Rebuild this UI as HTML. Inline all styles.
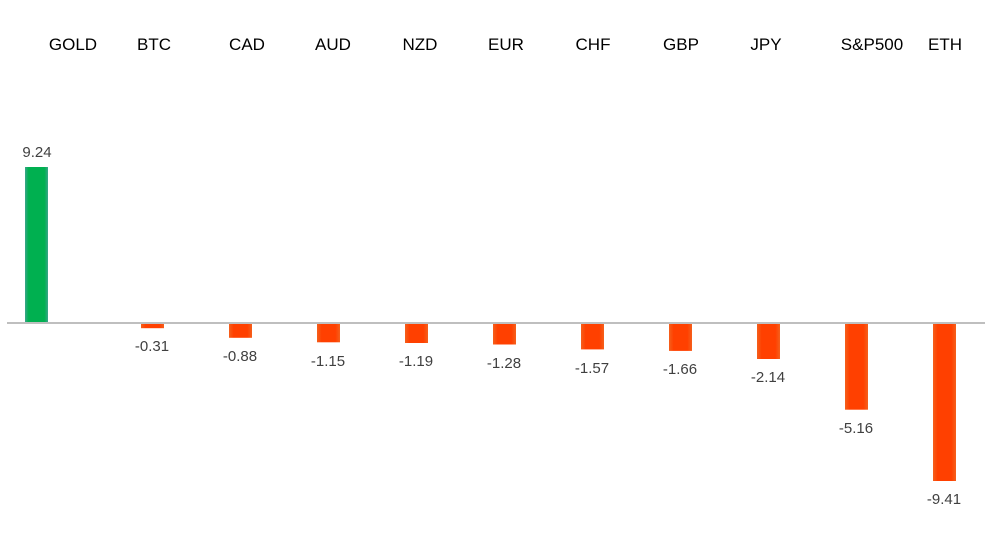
<!DOCTYPE html><html><head><style>
body{margin:0;width:997px;height:552px;background:#fff;overflow:hidden;font-family:"Liberation Sans",sans-serif}
</style></head><body>
<svg width="997" height="552" xmlns="http://www.w3.org/2000/svg">
<defs>
<linearGradient id="g" x1="0" x2="1"><stop offset="0" stop-color="#3aa58a"/><stop offset=".15" stop-color="#00b050"/><stop offset=".85" stop-color="#00b050"/><stop offset="1" stop-color="#3aa58a"/></linearGradient>
<linearGradient id="r" x1="0" x2="1"><stop offset="0" stop-color="#f5601c"/><stop offset=".2" stop-color="#ff4000"/><stop offset=".8" stop-color="#ff4000"/><stop offset="1" stop-color="#f5601c"/></linearGradient>
</defs>
<g font-size="17" fill="#000" text-anchor="middle">
<text x="73" y="50">GOLD</text><text x="154" y="50">BTC</text><text x="247" y="50">CAD</text><text x="333" y="50">AUD</text><text x="420" y="50">NZD</text><text x="506" y="50">EUR</text><text x="593" y="50">CHF</text><text x="681" y="50">GBP</text><text x="766" y="50">JPY</text><text x="872" y="50">S&amp;P500</text><text x="945" y="50">ETH</text>
</g>
<rect x="25" y="167" width="23" height="156" fill="url(#g)"/>
<g fill="url(#r)">
<rect x="141" y="323" width="23" height="5.2"/>
<rect x="229" y="323" width="23" height="14.8"/>
<rect x="317" y="323" width="23" height="19.3"/>
<rect x="405" y="323" width="23" height="20"/>
<rect x="493" y="323" width="23" height="21.5"/>
<rect x="581" y="323" width="23" height="26.4"/>
<rect x="669" y="323" width="23" height="27.9"/>
<rect x="757" y="323" width="23" height="36"/>
<rect x="845" y="323" width="23" height="86.7"/>
<rect x="933" y="323" width="23" height="158"/>
</g>
<line x1="7" y1="323" x2="985" y2="323" stroke="#bfbfbf" stroke-width="2"/>
<g font-size="15" fill="#404040" text-anchor="middle">
<text x="37" y="157">9.24</text>
<text x="152" y="351">-0.31</text>
<text x="240" y="361">-0.88</text>
<text x="328" y="366">-1.15</text>
<text x="416" y="366">-1.19</text>
<text x="504" y="368">-1.28</text>
<text x="592" y="373">-1.57</text>
<text x="680" y="374">-1.66</text>
<text x="768" y="382">-2.14</text>
<text x="856" y="433">-5.16</text>
<text x="944" y="504">-9.41</text>
</g>
</svg>
</body></html>
